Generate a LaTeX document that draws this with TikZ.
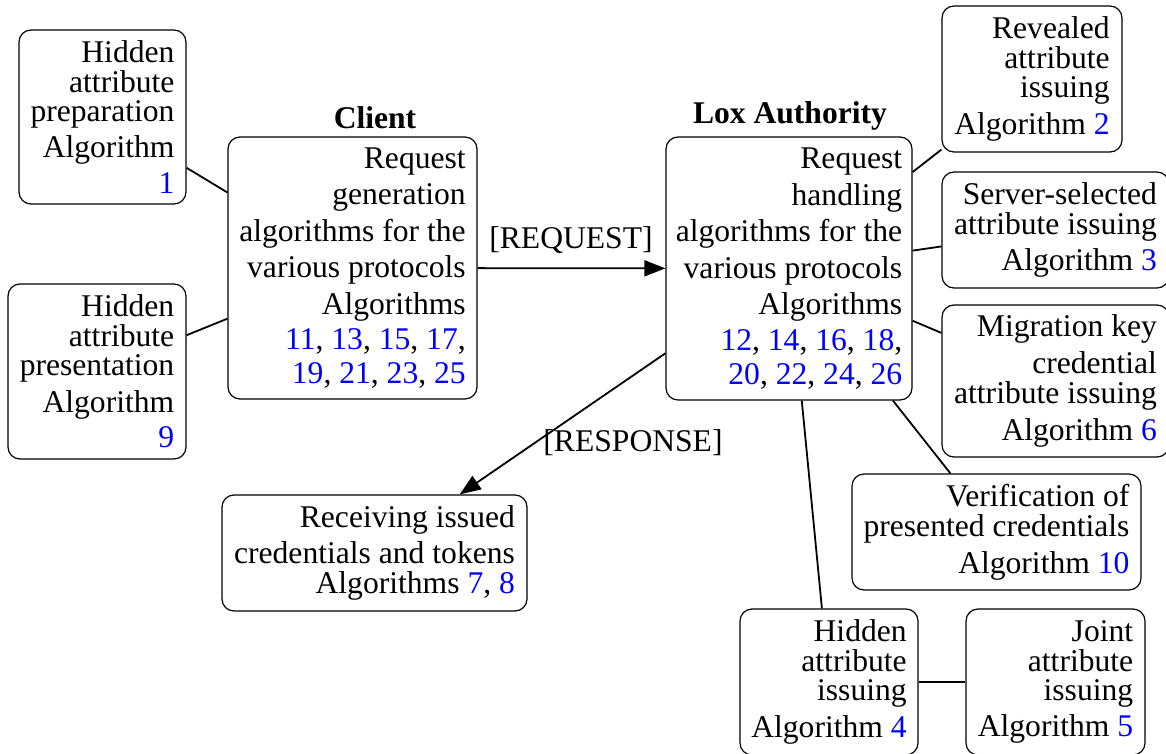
\documentclass[tikz,border=0pt]{standalone}
\usepackage{fontspec}
\setmainfont{Liberation Serif}
\usetikzlibrary{arrows.meta}
\definecolor{refblue}{RGB}{0,0,255}
\newcommand{\an}[1]{\textcolor{refblue}{#1}}
\newcommand{\boxfont}{\fontsize{15.8}{8}\selectfont\lineskiplimit=0pt\lineskip=3.9pt}
\begin{document}
\begin{tikzpicture}[x=0.5pt,y=-0.5pt,
  box/.style={draw, rounded corners=6pt, line width=0.6pt, align=right, inner sep=2pt, font=\boxfont},
  ttl/.style={font=\fontsize{15.8}{18}\selectfont\bfseries, inner sep=0pt},
  lbl/.style={font=\fontsize{15.8}{18}\selectfont, inner sep=0pt},
  conn/.style={line width=0.9pt},
  arr/.style={conn, -{Triangle[length=10.5pt,width=8pt]}}]
\useasboundingbox (0,0) rectangle (1166,754);

\node[box, minimum width=83.5pt, minimum height=87pt] (hap) at (102.5,117) {Hidden\\attribute\\preparation\\Algorithm\\\an{1}};
\node[box, minimum width=89pt, minimum height=87.5pt] (hpres) at (97,371.5) {Hidden\\attribute\\presentation\\Algorithm\\\an{9}};
\node[box, minimum width=124.5pt, minimum height=131pt] (client) at (352.5,268) {Request\\generation\\algorithms for the\\various protocols\\Algorithms\\\an{11}, \an{13}, \an{15}, \an{17},\\\an{19}, \an{21}, \an{23}, \an{25}};
\node[box, minimum width=123pt, minimum height=131.5pt] (lox) at (789,268.5) {Request\\handling\\algorithms for the\\various protocols\\Algorithms\\\an{12}, \an{14}, \an{16}, \an{18},\\\an{20}, \an{22}, \an{24}, \an{26}};
\node[box, minimum width=90pt, minimum height=73pt] (rev) at (1032,79) {Revealed\\attribute\\issuing\\Algorithm \an{2}};
\node[box, minimum width=113.5pt, minimum height=58pt] (srv) at (1055.5,230) {Server-selected\\attribute issuing\\Algorithm \an{3}};
\node[box, minimum width=113.5pt, minimum height=76pt] (mig) at (1055.5,381) {Migration key\\credential\\attribute issuing\\Algorithm \an{6}};
\node[box, minimum width=144.5pt, minimum height=58pt] (ver) at (996.5,532) {Verification of\\presented credentials\\Algorithm \an{10}};
\node[box, minimum width=152.5pt, minimum height=58pt] (rec) at (374.5,553) {Receiving issued\\credentials and tokens\\Algorithms \an{7}, \an{8}};
\node[box, minimum width=89pt, minimum height=73pt] (hiss) at (829,682) {Hidden\\attribute\\issuing\\Algorithm \an{4}};
\node[box, minimum width=89.5pt, minimum height=73pt] (joint) at (1055.5,682) {Joint\\attribute\\issuing\\Algorithm \an{5}};

\node[ttl] (ctitle) at (375,118) {Client};
\node[ttl] (ltitle) at (790,116) {Lox Authority};

\draw[conn] (hap) -- (client);
\draw[conn] (hpres) -- (client);
\draw[arr] (client) -- (lox);
\node[lbl] (reqlbl) at (571,240) {[REQUEST]};
\draw[arr] (lox) -- (rec);
\node[lbl] (resplbl) at (633,443) {[RESPONSE]};
\draw[conn] (lox) -- (rev);
\draw[conn] (lox) -- (srv);
\draw[conn] (lox) -- (mig);
\draw[conn] (lox) -- (ver);
\draw[conn] (lox) -- (hiss);
\draw[conn] (hiss) -- (joint);
\end{tikzpicture}
\end{document}
